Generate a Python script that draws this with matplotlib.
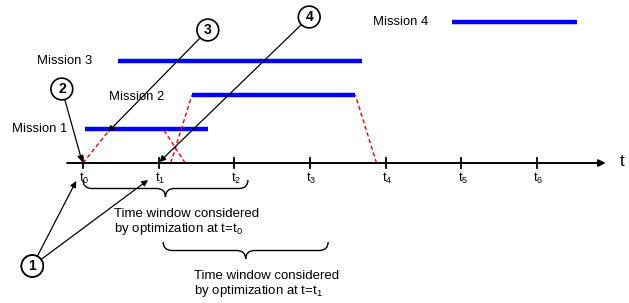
import matplotlib
matplotlib.use("Agg")
import matplotlib.pyplot as plt
from matplotlib.path import Path
from matplotlib.patches import PathPatch

plt.rcParams['font.family'] = ['Liberation Sans', 'DejaVu Sans']

# ---- data (x in units of the time grid t0..t6) ----
tick_values = [0, 1, 2, 3, 4, 5, 6]
tick_labels = ['$\\mathregular{t_0}$', '$\\mathregular{t_1}$', '$\\mathregular{t_2}$',
               '$\\mathregular{t_3}$', '$\\mathregular{t_4}$', '$\\mathregular{t_5}$',
               '$\\mathregular{t_6}$']

missions = ['Mission 1', 'Mission 2', 'Mission 3', 'Mission 4']
mission_start = [0.02, 1.44, 0.46, 4.88]
mission_end = [1.65, 3.60, 3.69, 6.53]
mission_row = [129, 95, 61, 22]          # vertical row of each mission

# red dashed transitions: axis point <-> point on a mission bar
trans_axis_t = [0.00, 1.35, 1.16, 3.88]
trans_bar_t = [0.36, 1.06, 1.44, 3.60]
trans_mission = [0, 0, 1, 1]

# time windows considered by optimization
window_start = [0.00, 1.06]
window_end = [2.18, 3.24]
window_text = ['Time window considered\nby optimization at t=$\\mathregular{t_0}$',
               'Time window considered\nby optimization at t=$\\mathregular{t_1}$']

# circled markers and their arrow targets
marker_labels = ['1', '1', '2', '3', '4']
marker_x = [-0.67, -0.67, -0.28, 1.65, 2.99]
marker_y = [266, 266, 89, 30, 17]
target_x = [-0.09, 0.86, -0.01, 0.33, 1.01]
target_y = [181, 180, 162, 132, 162]

AXIS_Y = 163

fig = plt.figure(figsize=(6.29, 3.03), dpi=100)
ax = fig.add_axes([0, 0, 1, 1])
ax.set_xlim(-83 / 75.65, (629 - 83) / 75.65)
ax.set_ylim(303, 0)
ax.axis('off')

# time axis
ax.annotate('', xy=(6.91, AXIS_Y), xytext=(-0.21, AXIS_Y),
            arrowprops=dict(arrowstyle='-|>', color='black', lw=1.4,
                            mutation_scale=10, shrinkA=0, shrinkB=0))
ax.text(7.12, AXIS_Y - 1, 't', fontsize=12, ha='center', va='center')
for tv, tl in zip(tick_values, tick_labels):
    ax.plot([tv, tv], [AXIS_Y - 5, AXIS_Y + 5], color='black', lw=1.3)
    ax.text(tv + 0.02, 178, tl, fontsize=9.3, ha='center', va='center')

# mission bars
for name, s, e, r in zip(missions, mission_start, mission_end, mission_row):
    ax.plot([s, e], [r, r], color='#0000ff', lw=3.2, solid_capstyle='butt')

label_pos = [(-0.94, 129), (0.344, 97), (-0.61, 61), (3.836, 22)]
for name, (lx, ly) in zip(missions, label_pos):
    ax.text(lx, ly, name, fontsize=9.4, ha='left', va='center')

# red dashed transitions
for at, bt, m in zip(trans_axis_t, trans_bar_t, trans_mission):
    ax.plot([at, bt], [AXIS_Y, mission_row[m]], color='red', lw=1.0,
            linestyle=(0, (3, 2)))

# braces
def brace(x0, x1, ytop, depth, r=0.12):
    xm = (x0 + x1) / 2
    ym = ytop + depth / 2
    verts = [(x0, ytop), (x0, ym), (x0 + r, ym),
             (xm - r, ym),
             (xm, ym), (xm, ytop + depth),
             (xm, ym), (xm + r, ym),
             (x1 - r, ym),
             (x1, ym), (x1, ytop)]
    codes = [Path.MOVETO, Path.CURVE3, Path.CURVE3,
             Path.LINETO,
             Path.CURVE3, Path.CURVE3,
             Path.CURVE3, Path.CURVE3,
             Path.LINETO,
             Path.CURVE3, Path.CURVE3]
    ax.add_patch(PathPatch(Path(verts, codes), fc='none', ec='black', lw=1.0))

brace_top = [180, 242]
for ws, we, bt in zip(window_start, window_end, brace_top):
    brace(ws, we, bt, 17)

text_pos = [(0.41, 222.5), (1.47, 284.5)]
for txt, (tx, ty) in zip(window_text, text_pos):
    ax.text(tx, ty, txt, fontsize=9.5, ha='left', va='center', linespacing=1.12)

# circled markers with arrows
for i, (lab, mx, my, tx, ty) in enumerate(zip(marker_labels, marker_x, marker_y,
                                               target_x, target_y)):
    ax.annotate(lab, xy=(tx, ty), xytext=(mx, my), fontsize=10, fontweight='bold',
                ha='center', va='center',
                bbox=dict(boxstyle='circle,pad=0.28', fc='white', ec='black', lw=1.2),
                arrowprops=dict(arrowstyle='-|>', color='black', lw=0.9,
                                mutation_scale=9, shrinkA=0, shrinkB=0))

fig.savefig('out.png', dpi=100)
